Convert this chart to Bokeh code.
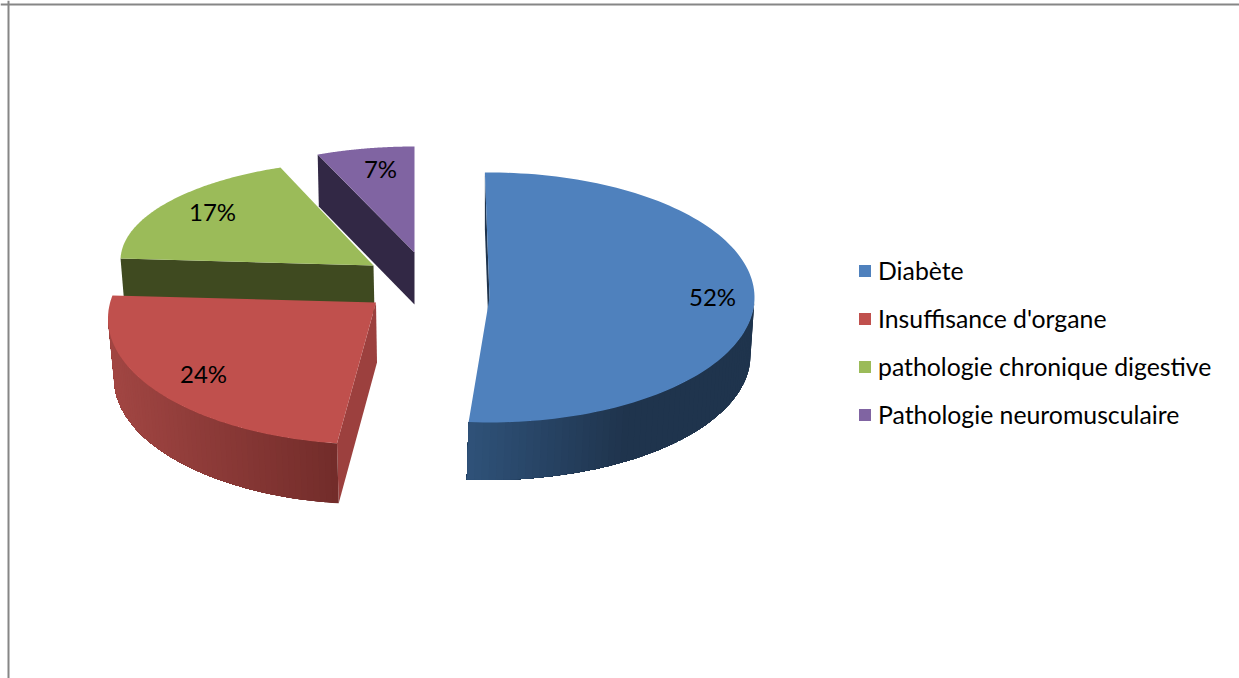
import numpy as np
from bokeh.plotting import figure
from bokeh.models import Range1d, Span, Legend, LegendItem
from bokeh.core.properties import value
from bokeh.embed import file_html
from bokeh.resources import INLINE

categories = ["Diabète", "Insuffisance d'organe", "pathologie chronique digestive", "Pathologie neuromusculaire"]
shares = [52, 24, 17, 7]

top_colors = ["#4F81BD", "#C0504D", "#9BBB59", "#8064A2"]
side_colors = ["#1F344D", "#9C403E", "#3F4A20", "#322845"]
wall_left = ["#2F5279", "#A24643", "#3F4A20", "#322845"]
wall_right = ["#1F344D", "#722C2A", "#3F4A20", "#322845"]

# projected layout of each exploded slice (pixels of the page)
apex_x = [489, 375.5, 373, 414]
apex_y = [297, 302, 265, 252]
ell_x = [489, 372.5, 373, 414]
ell_y = [297, 318, 260, 252]
rad_x = [265, 265, 253, 253]
rad_y = [125, 126, 100, 106]
start_deg = [-1, 187.8, -88.9, -22.5]
stretch = [0.991, 1.073, 1.10, 0.893]
depth = [57.5, 60, 48, 52]
low_rad_x = [263, 260, 250, 250]
low_dx = [-2, 1, 1, 0]
side_dx = [2, 0, 0, 0]
label_x = [712, 203, 212, 380]
label_y = [296, 373, 211, 168]

FONT = "Lato"
W, H = 1239, 678
p = figure(width=W, height=H, x_range=Range1d(0, W), y_range=Range1d(H, 0),
           output_backend="svg", toolbar_location=None, x_axis_location=None, y_axis_location=None,
           min_border=0, outline_line_color=None)
p.grid.visible = False

def hex2rgb(h):
    return np.array([int(h[i:i + 2], 16) for i in (1, 3, 5)], float)

def mix(a, b, f):
    c = hex2rgb(a) * (1 - f) + hex2rgb(b) * f
    return "#%02x%02x%02x" % tuple(int(round(v)) for v in c)

def pts(i, t, lower=False):
    r = np.radians(t)
    if lower:
        return (ell_x[i] + low_dx[i] + low_rad_x[i] * np.sin(r),
                ell_y[i] + depth[i] - rad_y[i] * np.cos(r))
    return ell_x[i] + rad_x[i] * np.sin(r), ell_y[i] - rad_y[i] * np.cos(r)

top_renderers = {}
for i in [3, 2, 1, 0]:
    sweep = shares[i] / sum(shares) * 360 * stretch[i]
    t0, t1 = start_deg[i], start_deg[i] + sweep
    ts = np.linspace(t0, t1, 120)

    # radial face at the start of the slice
    xa, ya = pts(i, t0)
    xb, yb = pts(i, t0, True)
    p.patch([xa, apex_x[i], apex_x[i] + low_dx[i] + side_dx[i], xb + side_dx[i]],
            [ya, apex_y[i], apex_y[i] + depth[i], yb],
            fill_color=side_colors[i], line_color=None)

    # outer wall, only the part that faces the viewer, split into overlapping shaded strips
    a = (ts % 360)
    wall = ts[(a >= 90) & (a <= 270)]
    if len(wall) > 1:
        edges = np.linspace(wall[0], wall[-1], 60)
        x_all = [pts(i, e)[0] for e in edges]
        lo, hi = min(x_all), max(x_all)
        for k in range(len(edges) - 1):
            seg = edges[k:]
            xu, yu = pts(i, seg)
            xl, yl = pts(i, seg, True)
            f = ((x_all[k] + x_all[k + 1]) / 2 - lo) / (hi - lo)
            if i == 0:
                f = min(1, f / 0.55)
            c = mix(wall_left[i], wall_right[i], f)
            p.patch(list(xu) + list(xl[::-1]), list(yu) + list(yl[::-1]), fill_color=c, line_color=None)

    # top face
    x, y = pts(i, ts)
    top_renderers[i] = p.patch(list(x) + [apex_x[i]], list(y) + [apex_y[i]],
                               fill_color=top_colors[i], line_color=None)

p.text(label_x, label_y, text=["%d%%" % s for s in shares], text_align="center", text_baseline="middle",
       text_font=value(FONT), text_font_size="24px", text_color="#000000")

for kw in (dict(location=8, dimension="height"), dict(location=4, dimension="width")):
    p.add_layout(Span(line_color="#868686", line_width=2, **kw))

legend = Legend(items=[LegendItem(label=c, renderers=[top_renderers[i]]) for i, c in enumerate(categories)],
                location=(857, 249), orientation="vertical", background_fill_alpha=0, border_line_color=None,
                padding=0, margin=0, spacing=19, glyph_width=15, glyph_height=15, label_standoff=6,
                label_text_font=FONT, label_text_font_size="24.8px", label_text_color="#000000",
                label_height=28)
p.add_layout(legend, "center")

open("out.html", "w").write(file_html(p, INLINE))
